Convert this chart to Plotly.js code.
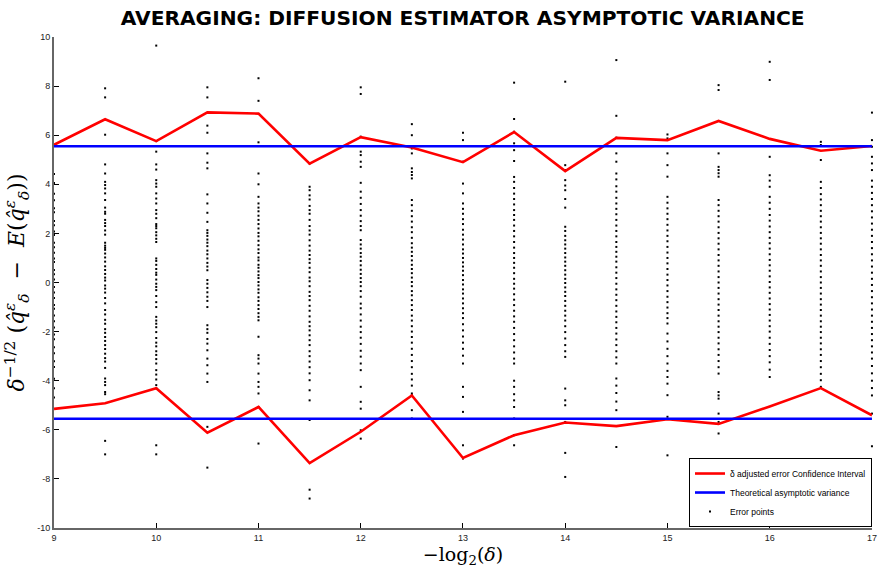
<!DOCTYPE html>
<html>
<head>
<meta charset="utf-8">
<script src="https://cdn.plot.ly/plotly-3.0.1.min.js"></script>
<style>html,body{margin:0;padding:0;background:#fff;}#chart{width:878px;height:569px;}</style>
</head>
<body>
<div id="chart"></div>
<script>
// x positions of the estimator columns (-log2(delta))
const levels = [9, 9.5, 10, 10.5, 11, 11.5, 12, 12.5, 13, 13.5, 14, 14.5, 15, 15.5, 16, 16.5, 17];

// confidence interval bounds (red)
const ciUpper = [5.61, 6.65, 5.76, 6.93, 6.88, 4.84, 5.92, 5.50, 4.90, 6.13, 4.54, 5.89, 5.80, 6.58, 5.85, 5.37, 5.56];
const ciLower = [-5.15, -4.92, -4.31, -6.12, -5.07, -7.36, -6.08, -4.60, -7.15, -6.22, -5.70, -5.85, -5.57, -5.76, -5.05, -4.30, -5.41];

// theoretical asymptotic variance bound (blue)
const theoBound = 5.55;

// error points per column
const col9    = [4.42, 4.05, 3.62, 3.35, 3.02, 2.86, 2.51, 2.33, 2.08, 1.93, 1.62, 1.44, 1.21, 0.98, 0.83, 0.51, 0.34, 0.12, -0.18, -0.41, -0.63, -0.92, -1.07, -1.34, -1.58, -1.83, -2.12, -2.31, -2.64, -2.88, -3.21, -3.44, -3.92, -4.31, -4.68];
const col9_5  = [7.91, 7.54, 6.02, 4.81, 4.44, 4.10, 3.97, 3.83, 3.63, 3.36, 3.05, 2.88, 2.80, 2.55, 2.42, 2.30, 2.12, 1.95, 1.62, 1.50, 1.41, 1.33, 1.18, 1.02, 0.85, 0.66, 0.51, 0.35, 0.20, 0.08, -0.12, -0.25, -0.41, -0.63, -0.85, -1.12, -1.30, -1.52, -1.68, -1.90, -2.05, -2.22, -2.38, -2.55, -2.71, -2.90, -3.08, -3.22, -3.48, -3.91, -4.05, -4.18, -4.46, -4.55, -6.45, -7.00];
const col10   = [9.65, 5.76, 5.33, 4.81, 4.60, 4.17, 4.03, 3.90, 3.63, 3.42, 3.22, 2.95, 2.80, 2.62, 2.38, 2.30, 2.21, 2.05, 1.92, 1.78, 1.65, 0.98, 0.88, 0.72, 0.55, 0.40, 0.31, 0.12, -0.05, -0.18, -0.31, -0.55, -0.80, -1.00, -1.40, -1.55, -1.68, -1.82, -2.02, -2.26, -2.45, -2.60, -2.80, -2.95, -3.12, -3.30, -3.57, -3.75, -3.95, -4.18, -4.31, -6.63, -7.00];
const col10_5 = [7.95, 7.54, 6.39, 6.10, 5.26, 4.88, 4.65, 3.59, 3.22, 2.84, 2.47, 2.13, 2.02, 1.90, 1.75, 1.62, 1.48, 1.30, 1.15, 0.98, 0.80, 0.65, 0.50, 0.10, -0.05, -0.22, -0.40, -0.58, -0.75, -1.00, -1.74, -1.90, -2.05, -2.30, -2.49, -2.76, -3.10, -3.37, -3.71, -4.05, -5.88, -7.54];
const col11   = [8.32, 7.40, 5.71, 4.44, 4.00, 3.49, 3.22, 3.05, 2.90, 2.72, 2.55, 2.38, 2.20, 2.02, 1.88, 1.70, 1.52, 1.35, 1.20, 1.02, 0.90, 0.72, 0.60, 0.45, 0.30, 0.18, 0.02, -0.12, -0.28, -0.42, -0.60, -0.75, -0.92, -1.08, -1.25, -1.40, -1.54, -2.21, -2.96, -3.10, -3.30, -3.71, -4.05, -4.25, -4.52, -5.07, -6.56];
const col11_5 = [4.85, 3.90, 3.76, 3.55, 3.38, 3.12, 2.95, 2.80, 2.55, 2.30, 2.12, 1.95, 1.72, 1.50, 1.30, 1.12, 0.95, 0.80, 0.60, 0.42, 0.20, 0.05, -0.15, -0.38, -0.55, -0.72, -0.95, -1.15, -1.38, -1.60, -1.78, -1.95, -2.15, -2.35, -2.55, -2.80, -3.00, -3.22, -3.45, -3.70, -3.98, -4.39, -4.80, -5.60, -8.44, -8.80];
const col12   = [7.95, 7.68, 5.94, 5.33, 5.19, 4.92, 4.71, 4.06, 3.70, 3.45, 3.20, 2.95, 2.72, 2.50, 2.30, 2.13, 1.73, 1.55, 1.38, 1.20, 1.05, 0.88, 0.70, 0.52, 0.35, 0.18, 0.02, -0.15, -0.35, -0.58, -0.86, -1.05, -1.30, -1.55, -1.80, -2.02, -2.25, -2.50, -2.78, -3.02, -3.30, -3.57, -4.25, -4.86, -5.14, -6.02, -6.36];
const col12_5 = [6.45, 6.00, 5.46, 5.26, 4.65, 4.50, 4.38, 4.24, 3.36, 3.15, 2.92, 2.70, 2.48, 2.25, 2.05, 1.82, 1.60, 1.42, 1.25, 1.08, 0.90, 0.72, 0.55, 0.38, 0.20, 0.02, -0.15, -0.35, -0.52, -0.72, -0.92, -1.12, -1.35, -1.55, -1.78, -2.00, -2.22, -2.45, -2.70, -2.95, -3.20, -3.45, -3.72, -3.95, -4.20, -4.52, -4.59, -5.20, -5.54];
const col13   = [6.10, 5.80, 4.92, 4.03, 3.63, 3.22, 3.00, 2.80, 2.58, 2.38, 2.15, 1.95, 1.75, 1.55, 1.35, 1.18, 1.00, 0.82, 0.65, 0.48, 0.30, 0.10, -0.08, -0.28, -0.45, -0.65, -0.85, -1.05, -1.25, -1.45, -1.70, -1.95, -2.20, -2.45, -2.70, -2.98, -3.30, -4.25, -4.66, -5.27, -6.63, -7.17];
const col13_5 = [8.14, 6.66, 6.14, 5.67, 5.39, 4.95, 4.30, 4.10, 3.85, 3.62, 3.40, 3.18, 2.95, 2.75, 2.55, 2.32, 2.10, 1.88, 1.65, 1.42, 1.20, 1.00, 0.80, 0.60, 0.38, 0.15, -0.05, -0.25, -0.48, -0.70, -0.92, -1.15, -1.38, -1.60, -1.85, -2.10, -2.35, -2.60, -2.85, -3.10, -3.30, -4.00, -4.25, -4.55, -4.80, -5.07, -5.54, -6.22, -6.63];
const col14   = [8.18, 4.78, 4.58, 4.17, 3.95, 3.76, 3.40, 3.05, 2.27, 2.10, 1.90, 1.72, 1.55, 1.38, 1.20, 1.02, 0.85, 0.68, 0.50, 0.32, 0.15, -0.02, -0.20, -0.38, -0.55, -0.75, -0.95, -1.15, -1.35, -1.55, -1.78, -2.02, -2.28, -2.55, -2.80, -3.03, -4.32, -4.80, -5.00, -5.68, -6.94, -7.92];
const col14_5 = [9.06, 6.79, 5.90, 5.26, 4.92, 4.44, 4.20, 3.92, 3.70, 3.45, 3.22, 3.00, 2.78, 2.55, 2.32, 2.10, 1.88, 1.65, 1.45, 1.25, 1.05, 0.85, 0.62, 0.40, 0.18, -0.05, -0.28, -0.50, -0.72, -0.95, -1.18, -1.40, -1.62, -1.85, -2.08, -2.32, -2.55, -2.80, -3.05, -3.30, -3.91, -4.20, -4.50, -4.85, -5.20, -6.70];
const col15   = [6.03, 5.87, 5.26, 4.78, 4.31, 3.49, 3.25, 3.02, 2.80, 2.58, 2.35, 2.12, 1.90, 1.68, 1.45, 1.22, 1.00, 0.78, 0.55, 0.32, 0.10, -0.12, -0.35, -0.58, -0.80, -1.02, -1.25, -1.45, -1.67, -2.08, -2.40, -2.70, -3.00, -3.30, -3.60, -3.85, -4.12, -4.59, -5.47, -7.04];
const col15_5 = [8.04, 7.84, 6.58, 5.26, 4.71, 4.58, 4.45, 4.31, 3.36, 3.15, 2.92, 2.70, 2.48, 2.25, 2.02, 1.80, 1.58, 1.35, 1.12, 0.90, 0.68, 0.45, 0.22, 0.00, -0.22, -0.45, -0.68, -0.90, -1.12, -1.35, -1.58, -1.80, -2.02, -2.25, -2.48, -2.72, -2.95, -3.20, -3.45, -3.71, -4.46, -4.60, -4.73, -5.34, -5.68, -6.15];
const col16   = [8.99, 8.25, 5.12, 4.37, 4.15, 3.90, 3.49, 3.25, 3.00, 2.75, 2.52, 2.28, 2.05, 1.82, 1.60, 1.38, 1.15, 0.92, 0.70, 0.48, 0.25, 0.02, -0.20, -0.42, -0.65, -0.88, -1.10, -1.32, -1.55, -1.78, -2.00, -2.25, -2.50, -2.75, -3.00, -3.25, -3.55, -3.85, -7.31];
const col16_5 = [5.73, 5.60, 4.99, 4.10, 3.85, 3.60, 3.38, 3.15, 2.92, 2.70, 2.48, 2.25, 2.02, 1.80, 1.58, 1.35, 1.12, 0.90, 0.68, 0.45, 0.22, 0.00, -0.22, -0.45, -0.68, -0.90, -1.12, -1.35, -1.58, -1.80, -2.02, -2.25, -2.48, -2.72, -2.95, -3.20, -3.45, -3.72, -3.98, -4.25];
const col17   = [6.92, 5.80, 5.53, 5.12, 4.85, 4.58, 4.15, 3.90, 3.65, 3.40, 3.15, 2.90, 2.65, 2.40, 2.15, 1.90, 1.65, 1.40, 1.15, 0.90, 0.65, 0.40, 0.15, -0.10, -0.35, -0.60, -0.85, -1.10, -1.35, -1.60, -1.85, -2.10, -2.35, -2.60, -2.85, -3.10, -3.40, -3.70, -4.00, -4.30, -4.60, -5.34, -6.67];

const errorColumns = [col9, col9_5, col10, col10_5, col11, col11_5, col12, col12_5, col13, col13_5, col14, col14_5, col15, col15_5, col16, col16_5, col17];

const xTickVals = [9, 10, 11, 12, 13, 14, 15, 16, 17];
const xTickLabels = ['9', '10', '11', '12', '13', '14', '15', '16', '17'];
const yTickVals = [-10, -8, -6, -4, -2, 0, 2, 4, 6, 8, 10];
const yTickLabels = ['-10', '-8', '-6', '-4', '-2', '0', '2', '4', '6', '8', '10'];

const legendNames = ['\u03b4 adjusted error Confidence Interval', 'Theoretical asymptotic variance', 'Error points'];

// build scatter arrays
const ptsX = [], ptsY = [];
errorColumns.forEach((col, i) => col.forEach(v => { ptsX.push(levels[i]); ptsY.push(v); }));

const xEnds = [levels[0], levels[levels.length - 1]];

const traces = [
  {x: ptsX, y: ptsY, type: 'scatter', mode: 'markers', name: legendNames[2], legendrank: 3,
   marker: {symbol: 'square', size: 2, color: '#000'}, cliponaxis: false},
  {x: levels, y: ciUpper, type: 'scatter', mode: 'lines', name: legendNames[0], legendrank: 1,
   legendgroup: 'ci', line: {color: '#ff0000', width: 2.6}},
  {x: levels, y: ciLower, type: 'scatter', mode: 'lines', name: legendNames[0], legendgroup: 'ci',
   showlegend: false, line: {color: '#ff0000', width: 2.6}},
  {x: xEnds, y: [theoBound, theoBound], type: 'scatter', mode: 'lines', name: legendNames[1], legendrank: 2,
   legendgroup: 'th', line: {color: '#0000ff', width: 2.6}},
  {x: xEnds, y: [-theoBound, -theoBound], type: 'scatter', mode: 'lines', name: legendNames[1],
   legendgroup: 'th', showlegend: false, line: {color: '#0000ff', width: 2.6}}
];

const layout = {
  width: 878, height: 569,
  margin: {l: 54, r: 6, t: 37, b: 41},
  paper_bgcolor: '#fff', plot_bgcolor: '#fff',
  font: {family: 'Liberation Sans, Arial, sans-serif', color: '#000'},
  title: {text: '<b>AVERAGING: DIFFUSION ESTIMATOR ASYMPTOTIC VARIANCE</b>',
          font: {size: 20.2, family: 'DejaVu Sans, sans-serif', color: '#000'},
          x: 0.527, xanchor: 'center', y: 0.968, yanchor: 'middle'},
  xaxis: {range: [9, 17.0005], tickvals: xTickVals, ticktext: xTickLabels,
          ticks: 'inside', ticklen: 5, tickwidth: 1, tickcolor: '#000',
          ticklabeloverflow: 'allow',
          showline: true, linecolor: '#666', linewidth: 2, mirror: false,
          showgrid: false, zeroline: false,
          tickfont: {size: 9, color: '#222'},
          title: {text: '\u2212log<sub>2</sub>(<i>\u03b4</i>)', font: {size: 19, family: 'DejaVu Serif, serif', color: '#000'}, standoff: 6}},
  yaxis: {range: [-10, 10], tickvals: yTickVals, ticktext: yTickLabels,
          ticks: 'inside', ticklen: 5, tickwidth: 1, tickcolor: '#000',
          ticklabeloverflow: 'allow',
          showline: true, linecolor: '#666', linewidth: 2, mirror: false,
          showgrid: false, zeroline: false,
          tickfont: {size: 9, color: '#222'},
          title: {text: '<i>\u03b4</i><sup>\u22121/2</sup> (<i>q\u0302</i><sup><i>\u03b5</i></sup><sub><i>\u03b4</i></sub>  \u2212  <i>E</i>(<i>q\u0302</i><sup><i>\u03b5</i></sup><sub><i>\u03b4</i></sub>))',
                  font: {size: 22, family: 'DejaVu Serif, serif', color: '#000'}, standoff: 6}},
  showlegend: true,
  legend: {x: 1, xanchor: 'right', y: 0.002, yanchor: 'bottom',
           bgcolor: '#fff', bordercolor: '#000', borderwidth: 1,
           font: {size: 8.5, color: '#000'}, itemwidth: 30, tracegroupgap: 0}
};

Plotly.newPlot('chart', traces, layout, {displayModeBar: false, staticPlot: true});
</script>
</body>
</html>
